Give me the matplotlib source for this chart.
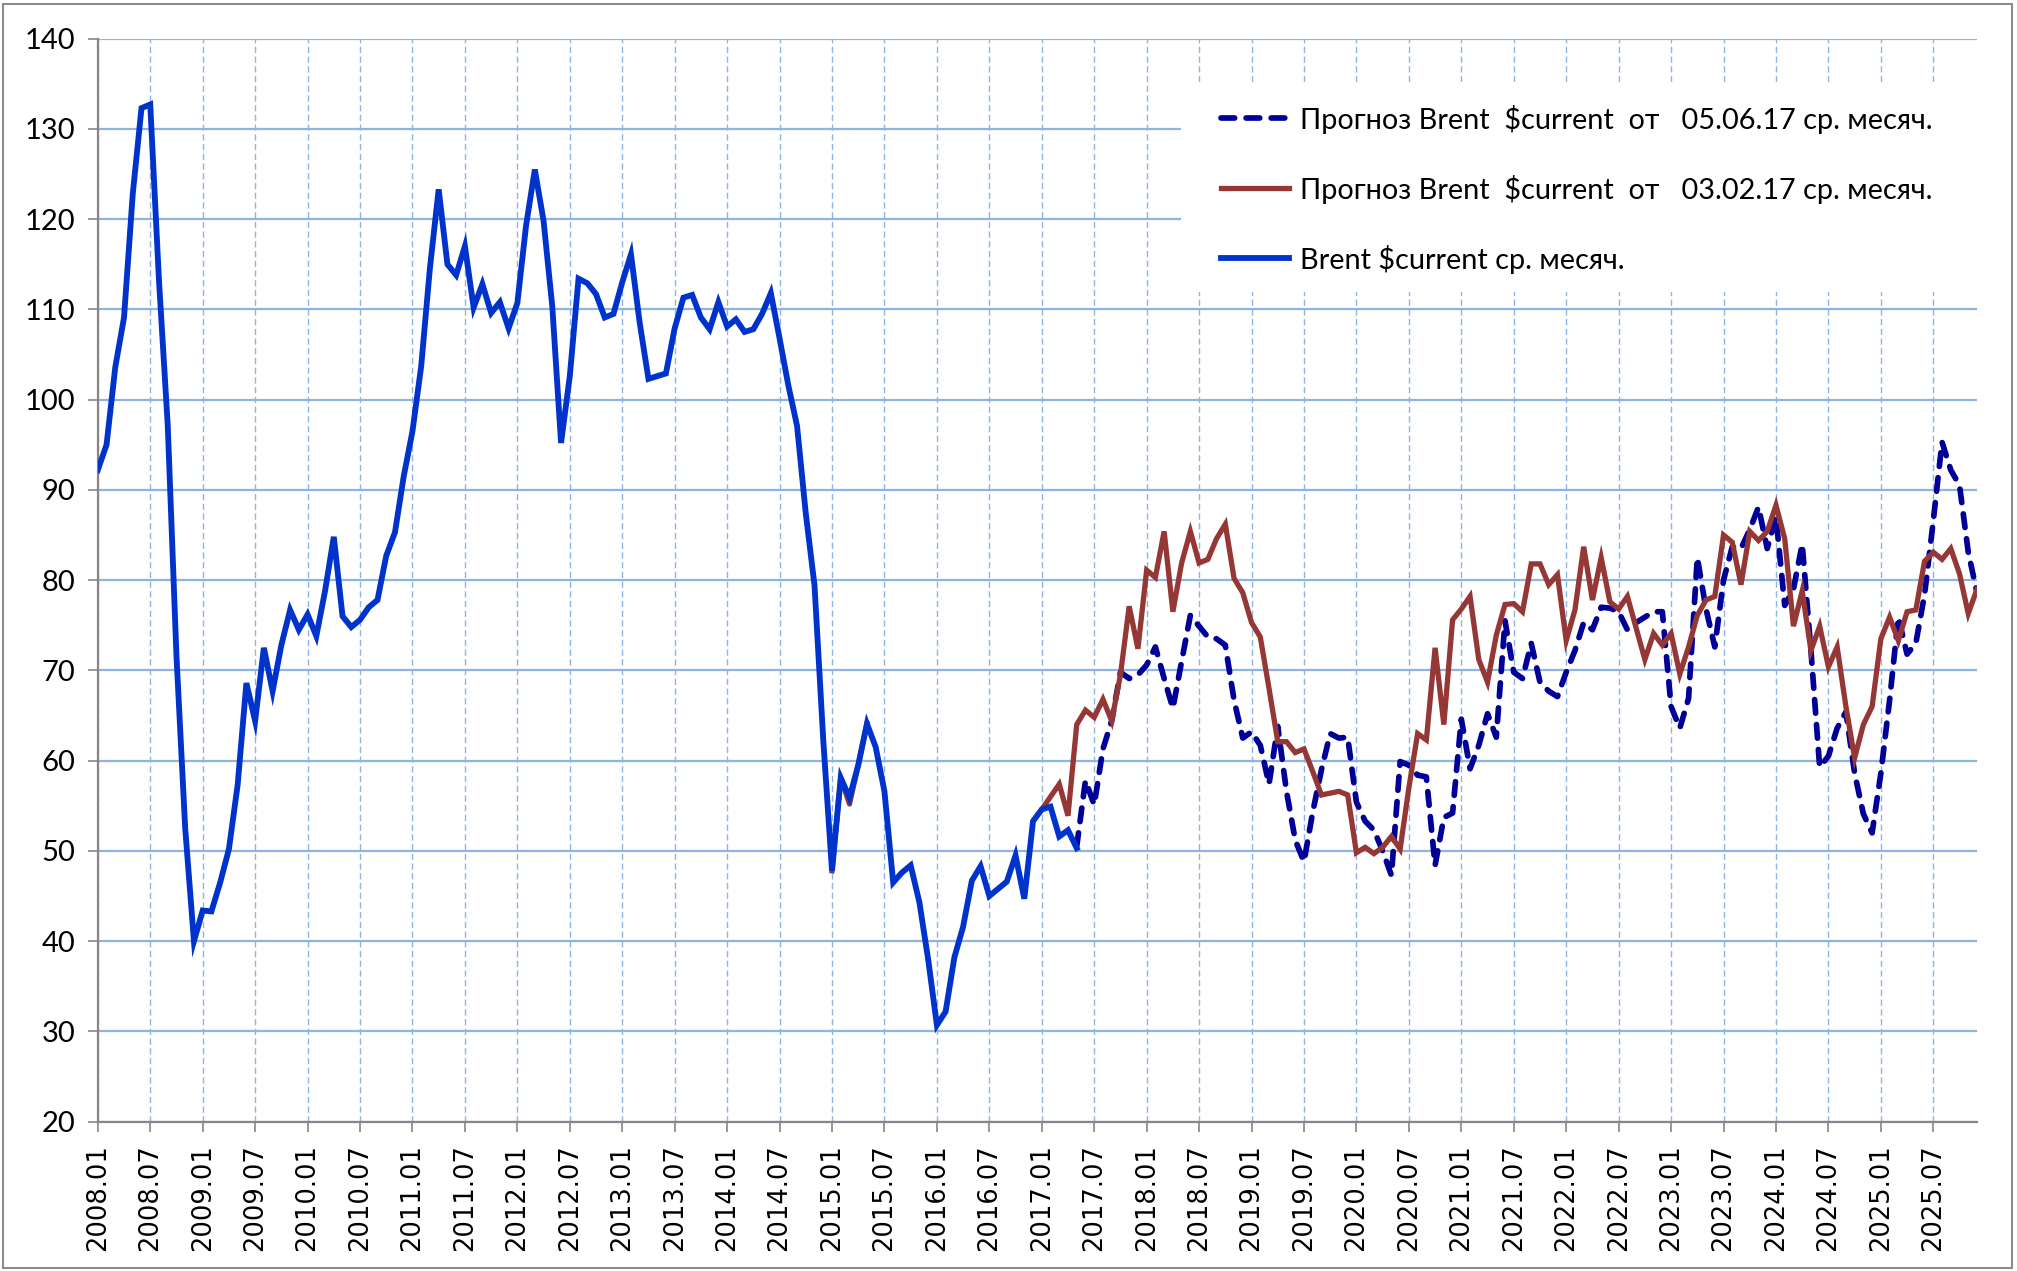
import numpy as np
import matplotlib
matplotlib.use("Agg")
import matplotlib.pyplot as plt
from matplotlib.patches import Rectangle
from matplotlib.font_manager import findfont, FontProperties
from matplotlib.ft2font import FT2Font

# ---------------- data ----------------
years = list(range(2008, 2026))
tick_labels = [f"{y}.{m}" for y in years for m in ("01", "07")]

# Brent $current, monthly average, 2008.01 - 2017.05
brent_actual = [
    92.2, 95.0, 103.6, 109.1, 122.8, 132.3, 132.7, 113.2, 97.2, 71.6, 52.5, 40.0,
    43.4, 43.3, 46.5, 50.2, 57.3, 68.6, 64.4, 72.5, 67.7, 72.8, 76.7, 74.5,
    76.2, 73.8, 78.8, 84.8, 76.0, 74.8, 75.6, 77.0, 77.8, 82.7, 85.3, 91.5,
    96.5, 103.7, 114.6, 123.3, 115.0, 113.8, 117.0, 110.2, 112.8, 109.6, 110.8, 107.9,
    110.7, 119.3, 125.5, 119.8, 110.3, 95.2, 102.6, 113.4, 112.9, 111.7, 109.1, 109.5,
    113.0, 116.1, 108.5, 102.3, 102.6, 102.9, 107.9, 111.3, 111.6, 109.1, 107.8, 110.8,
    108.1, 108.9, 107.5, 107.8, 109.5, 111.8, 106.8, 101.6, 97.1, 87.4, 79.4, 62.3,
    47.8, 58.1, 55.9, 59.5, 64.1, 61.5, 56.6, 46.5, 47.6, 48.4, 44.3, 38.0,
    30.7, 32.2, 38.2, 41.6, 46.7, 48.3, 45.0, 45.8, 46.6, 49.5, 44.7, 53.3,
    54.6, 54.9, 51.6, 52.3, 50.3,
]

# forecast of 03.02.17: small visible piece in 2015 (2015.01-2015.05) and 2017.01-2025.12
red_2015_start = "2015.01"
red_2015 = [47.8, 58.1, 55.2, 59.5, 64.1]
red_start = "2017.01"
red_forecast = [
    54.6, 56.0, 57.4, 53.9, 64.0, 65.6, 64.8, 66.8, 64.4, 69.5, 77.1, 72.4,
    81.1, 80.3, 85.4, 76.5, 81.9, 85.4, 81.9, 82.3, 84.6, 86.2, 80.2, 78.6,
    75.3, 73.7, 68.0, 62.1, 62.1, 60.9, 61.3, 58.8, 56.2, 56.4, 56.6, 56.2,
    49.8, 50.4, 49.7, 50.4, 51.6, 50.2, 57.0, 63.0, 62.3, 72.5, 64.0, 75.6,
    76.8, 78.2, 71.2, 68.7, 73.9, 77.3, 77.4, 76.5, 81.8, 81.8, 79.5, 80.6,
    73.3, 76.7, 83.7, 77.8, 82.5, 77.6, 76.8, 78.2, 74.7, 71.2, 74.1, 72.8,
    74.1, 69.6, 72.6, 76.1, 77.8, 78.2, 85.0, 84.2, 79.5, 85.4, 84.4, 85.4,
    88.3, 84.6, 74.9, 78.8, 72.2, 74.9, 70.4, 72.6, 66.0, 60.3, 64.0, 66.0,
    73.5, 75.9, 73.3, 76.5, 76.7, 82.1, 83.1, 82.3, 83.5, 80.7, 76.3, 79.0,
]

# forecast of 05.06.17: 2017.05-2025.12
dash_start = "2017.05"
dash_forecast = [
    50.5, 57.8, 55.1, 61.3, 64.4, 69.8, 69.1, 69.5,
    70.6, 72.6, 69.1, 65.8, 71.0, 76.1, 74.9, 73.7, 73.5, 72.8, 66.7, 62.5,
    63.2, 61.7, 57.4, 63.8, 56.6, 51.2, 48.8, 54.3, 59.0, 63.0, 62.5, 62.6,
    55.4, 53.3, 52.3, 50.0, 47.3, 59.9, 59.5, 58.4, 58.2, 48.4, 53.7, 54.2,
    64.6, 59.1, 61.7, 65.2, 62.6, 75.5, 69.8, 69.1, 73.0, 68.7, 67.7, 67.1,
    69.8, 72.2, 75.3, 74.5, 77.0, 76.9, 76.5, 74.5, 75.3, 75.9, 76.5, 76.5,
    66.0, 63.6, 66.9, 82.5, 76.8, 72.6, 80.0, 83.7, 83.5, 85.6, 88.1, 83.5,
    87.0, 77.2, 79.0, 84.0, 72.2, 59.3, 60.5, 63.6, 65.4, 58.6, 54.1, 52.0,
    58.6, 66.7, 75.9, 71.8, 73.0, 78.4, 86.6, 95.3, 92.2, 90.5, 83.1, 78.6,
]

labels = [
    "Прогноз Brent  \\$current  от   05.06.17 ср. месяч.",
    "Прогноз Brent  \\$current  от   03.02.17 ср. месяч.",
    "Brent \\$current ср. месяч.",
]

# ---------------- helpers ----------------
months = [f"{y}.{m:02d}" for y in years for m in range(1, 13)]
idx = {m: i for i, m in enumerate(months)}


def xs(start, n):
    s = idx[start]
    return np.arange(s, s + n)


def pick_font(preferred, fallback):
    try:
        f = FT2Font(findfont(FontProperties(family=preferred), fallback_to_default=False))
        if ord("П") in f.get_charmap():
            return preferred
    except Exception:
        pass
    return fallback


body_font = pick_font("Lato", "Open Sans")

# ---------------- figure ----------------
W, H = 2017, 1271
fig = plt.figure(figsize=(W / 100, H / 100), dpi=100)
L, R, T, B = 97.8, 1977.0, 38.6, 1121.7
ax = fig.add_axes([L / W, 1 - B / H, (R - L) / W, (B - T) / H])
ax.set_axisbelow(True)

grid_c = "#8EB4E3"
axis_c = "#868686"

ax.set_xlim(0, len(months) - 1)
ax.set_ylim(20, 140)
ax.set_yticks(range(20, 141, 10))
ax.set_xticks(range(0, len(months), 6))
ax.set_xticklabels(tick_labels, rotation=90, fontsize=18.5, family="DejaVu Sans")
for t in ax.get_yticklabels():
    t.set_family(body_font)
    t.set_fontsize(21)

ax.yaxis.grid(True, color=grid_c, lw=1.6)
ax.xaxis.grid(True, color=grid_c, lw=1.0, linestyle=(0, (4.5, 2.5)))

for s in ("top", "right"):
    ax.spines[s].set_visible(False)
for s in ("left", "bottom"):
    ax.spines[s].set_color(axis_c)
    ax.spines[s].set_linewidth(1.6)

ax.tick_params(axis="y", direction="out", length=7, width=1.2, color=axis_c, pad=9)
ax.tick_params(axis="x", direction="out", length=7, width=1.2, color=axis_c, pad=9)

# white legend area covering the grid
ax.add_patch(Rectangle((0.5764, 0.766), 0.43, 0.194, transform=ax.transAxes,
                       facecolor="white", edgecolor="none", zorder=1, clip_on=False))

# series
l_dash, = ax.plot(xs(dash_start, len(dash_forecast)), dash_forecast, color="#000099",
                  lw=4.1, linestyle=(0, (2.4, 2.0)), dash_capstyle="round", zorder=3,
                  label=labels[0])
l_red, = ax.plot(xs(red_start, len(red_forecast)), red_forecast, color="#953735",
                 lw=3.8, zorder=4, label=labels[1], solid_joinstyle="miter")
ax.plot(xs(red_2015_start, len(red_2015)), red_2015, color="#953735", lw=3.8, zorder=4)
l_blue, = ax.plot(np.arange(len(brent_actual)), brent_actual, color="#0033CC",
                  lw=4.2, zorder=5, label=labels[2], solid_joinstyle="miter")

leg = ax.legend(handles=[l_dash, l_red, l_blue], loc="upper left",
                bbox_to_anchor=(1221 / W, 1 - 104.5 / H), bbox_transform=fig.transFigure,
                frameon=False, borderpad=0, borderaxespad=0, handlelength=2.35,
                handletextpad=0.4, labelspacing=1.42,
                prop=FontProperties(family=body_font, size=20.8))
for t in leg.get_texts():
    t.set_color("black")

# chart-area border
fig.patches.append(Rectangle((0.0015, 0.002), 0.996, 0.995, transform=fig.transFigure,
                             fill=False, edgecolor="#8c8c8c", lw=1.5))

fig.savefig("out.png", dpi=100, facecolor="white")
